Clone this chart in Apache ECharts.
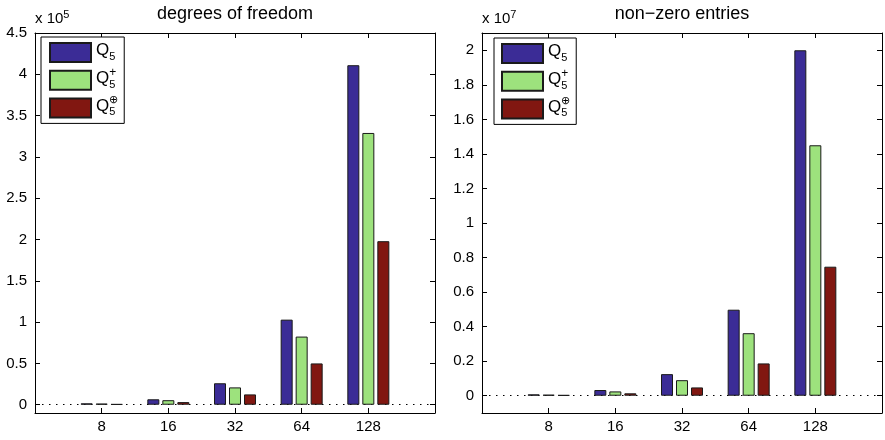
<!DOCTYPE html>
<html><head><meta charset="utf-8">
<script src="https://cdn.jsdelivr.net/npm/echarts@6/dist/echarts.min.js"></script>
<style>html,body{margin:0;padding:0;background:#fff}#c{width:885px;height:440px}</style>
</head><body><div id="c"></div>
<script>
// mesh sizes (x tick labels)
const categories = ['8', '16', '32', '64', '128'];
// degrees of freedom, x 10^5
const dofQ5      = [0.017, 0.066, 0.26, 1.03, 4.11];
const dofQ5plus  = [0.014, 0.055, 0.21, 0.825, 3.29];
const dofQ5oplus = [0.008, 0.032, 0.125, 0.50, 1.98];
// non-zero entries, x 10^7
const nnzQ5      = [0.008, 0.033, 0.125, 0.498, 2.0];
const nnzQ5plus  = [0.006, 0.025, 0.09, 0.362, 1.45];
const nnzQ5oplus = [0.004, 0.014, 0.048, 0.187, 0.747];
const seriesNames = ['Q5', 'Q5+', 'Q5⊕'];
const titles = ['degrees of freedom', 'non−zero entries'];
const exponents = ['5', '7'];
const yLabelMax = [4.5, 2];

const FONT = '"Liberation Sans", Arial, Helvetica, sans-serif';
const colors = ['#3b2c96', '#9de27d', '#811711'];
const axisCats = [''].concat(categories, ['']);
const pad = arr => ['-'].concat(arr, ['-']);

function xAxes(gi) {
  const base = {
    type: 'category', gridIndex: gi, data: axisCats, boundaryGap: false,
    axisLine: { show: true, onZero: false, lineStyle: { color: '#000', width: 1 } },
    axisTick: { show: true, inside: true, length: 5, lineStyle: { color: '#000' },
      interval: (i) => i > 0 && i < axisCats.length - 1 },
    splitLine: { show: false }
  };
  return [
    Object.assign({}, base, { position: 'bottom',
      axisLabel: { show: true, interval: 0, fontSize: 15, color: '#000', fontFamily: FONT, margin: 6 } }),
    Object.assign({}, base, { position: 'top', axisLabel: { show: false } })
  ];
}
function yAxes(gi, min, max, split, exp, labMax) {
  const base = {
    type: 'value', gridIndex: gi, min: min, max: max, splitNumber: split,
    axisLine: { show: true, onZero: false, lineStyle: { color: '#000', width: 1 } },
    axisTick: { show: true, inside: true, length: 5, lineStyle: { color: '#000' } },
    splitLine: { show: false }
  };
  return [
    Object.assign({}, base, { position: 'left',
      name: '{a|x 10}{b|' + exp + '}', nameLocation: 'end', nameGap: 4,
      nameTextStyle: { align: 'left', fontFamily: FONT, color: '#000',
        rich: { a: { fontSize: 15, lineHeight: 20, fontFamily: FONT, color: '#000' },
                b: { fontSize: 11, lineHeight: 10, verticalAlign: 'top', fontFamily: FONT, color: '#000' } } },
      axisLabel: { show: true, showMinLabel: false, fontSize: 15, color: '#000', fontFamily: FONT, margin: 8,
        formatter: v => (v < 0 || v > labMax + 1e-9 ? '' : String(v)) } }),
    Object.assign({}, base, { position: 'right', axisLabel: { show: false } })
  ];
}
function bars(xi, yi, arrays) {
  return arrays.map((arr, k) => {
    const s = {
      type: 'bar', name: seriesNames[k], xAxisIndex: xi, yAxisIndex: yi,
      data: pad(arr), barWidth: 12, barGap: '25%',
      itemStyle: { color: colors[k], borderColor: '#1a1a1a', borderWidth: 1 },
      emphasis: { disabled: true }, animation: false
    };
    if (k === 0) {
      s.markLine = { silent: true, symbol: 'none', animation: false, label: { show: false },
        lineStyle: { color: '#000', width: 1, type: [1.5, 5.5] }, data: [{ yAxis: 0 }], z: 1 };
    }
    return s;
  });
}
const legendText = {
  'Q5': '{q|Q}{s|5}{z| }',
  'Q5+': '{q|Q}{p|+}{s|5}{z| }',
  'Q5⊕': '{q|Q}{o|⊕}{s|5}{z| }'
};
function legend(left, top, padL) {
  return {
    show: true, orient: 'vertical', left: left, top: top,
    data: seriesNames, itemWidth: 41, itemHeight: 19, itemGap: 0.7,
    padding: [2, 6, 2, padL], borderColor: '#000', borderWidth: 1, backgroundColor: '#fff',
    icon: 'rect', selectedMode: false,
    formatter: n => legendText[n],
    textStyle: { fontFamily: FONT, color: '#000',
      rich: {
        q: { fontSize: 17, height: 23, lineHeight: 27, verticalAlign: 'top', fontFamily: FONT, color: '#000' },
        s: { fontSize: 11, height: 18, lineHeight: 27, verticalAlign: 'bottom', fontFamily: FONT, color: '#000' },
        p: { fontSize: 12, lineHeight: 15, verticalAlign: 'top', width: 0.1, align: 'left', fontFamily: FONT, color: '#000' },
        o: { fontSize: 11, lineHeight: 15, verticalAlign: 'top', width: 0.1, align: 'left', fontFamily: FONT, color: '#000' },
        z: { fontSize: 1, lineHeight: 27 }
      } }
  };
}

const chart = echarts.init(document.getElementById('c'), null, { renderer: 'canvas' });
chart.setOption({
  animation: false,
  backgroundColor: '#fff',
  title: [
    { text: titles[0], left: 235, top: 5, textAlign: 'center', padding: 0,
      textStyle: { fontSize: 18, fontWeight: 'normal', color: '#000', fontFamily: FONT, lineHeight: 18 } },
    { text: titles[1], left: 682, top: 5, textAlign: 'center', padding: 0,
      textStyle: { fontSize: 18, fontWeight: 'normal', color: '#000', fontFamily: FONT, lineHeight: 18 } }
  ],
  grid: [
    { left: 35, top: 33, width: 400, height: 380, containLabel: false },
    { left: 482, top: 33, width: 400, height: 380, containLabel: false }
  ],
  legend: [legend(41, 37, 8), legend(494, 38, 7)],
  xAxis: xAxes(0).concat(xAxes(1)),
  yAxis: yAxes(0, -0.1, 4.5, 9, exponents[0], yLabelMax[0]).concat(yAxes(1, -0.1, 2.1, 11, exponents[1], yLabelMax[1])),
  series: bars(0, 0, [dofQ5, dofQ5plus, dofQ5oplus]).concat(bars(2, 2, [nnzQ5, nnzQ5plus, nnzQ5oplus]))
});
</script></body></html>
